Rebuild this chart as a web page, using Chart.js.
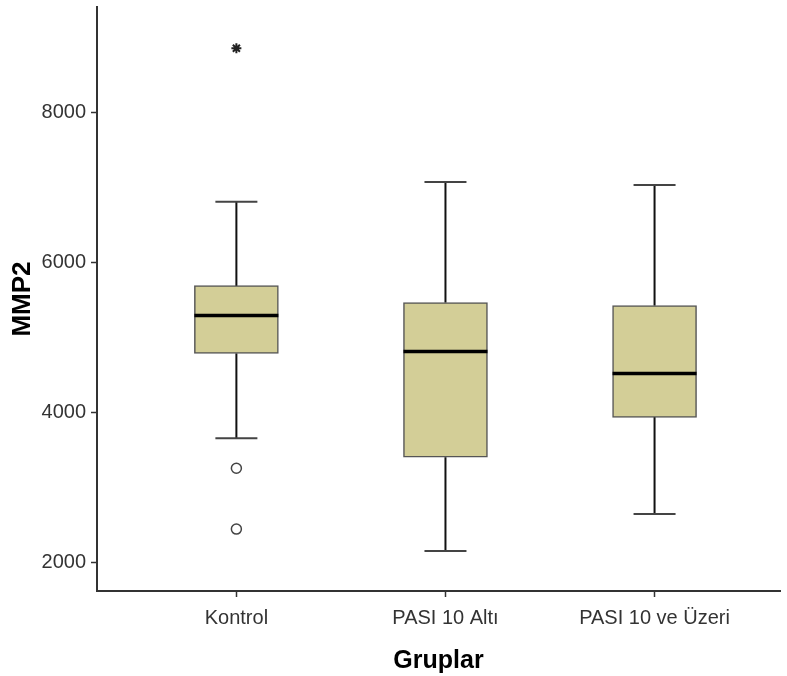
<!DOCTYPE html>
<html>
<head>
<meta charset="utf-8">
<script src="https://cdn.jsdelivr.net/npm/chart.js@4/dist/chart.umd.min.js"></script>
<style>
  body { margin: 0; background: #fff; }
  #wrap { width: 787px; height: 676px; }
</style>
</head>
<body>
<div id="wrap"><canvas id="chart"></canvas></div>
<script>
// Gruplar ve kutu grafiği değerleri
const groups = ['Kontrol', 'PASI 10 Altı', 'PASI 10 ve Üzeri'];
const whiskerMin = [3654, 2153, 2645];
const q1 = [4784, 3402, 3934];
const median = [5289, 4811, 4518];
const q3 = [5688, 5462, 5422];
const whiskerMax = [6804, 7070, 7030];
const outliers = [[3256, 2445], [], []];   // daire
const extremes = [[8850], [], []];         // yıldız
const yTicks = [2000, 4000, 6000, 8000];

const FONT = '"Liberation Sans", Arial, sans-serif';

const boxData = groups.map((g, i) => ({ x: i + 1, y: [q1[i], q3[i]] }));
const outlierPts = [];
outliers.forEach((arr, i) => arr.forEach(v => outlierPts.push({ x: i + 1, y: v })));
const extremePts = [];
extremes.forEach((arr, i) => arr.forEach(v => extremePts.push({ x: i + 1, y: v })));

// Bıyıklar ve medyan çizgileri
const boxLines = {
    id: 'boxLines',
    afterDatasetsDraw(chart) {
        const ctx = chart.ctx;
        const y = chart.scales.y;
        const meta = chart.getDatasetMeta(0);
        ctx.save();
        meta.data.forEach((bar, i) => {
            const cx = bar.x;
            const half = bar.width / 2;
            const cap = half / 2;
            // dikey bıyıklar
            ctx.strokeStyle = '#111';
            ctx.lineWidth = 2;
            ctx.beginPath();
            ctx.moveTo(cx, y.getPixelForValue(q3[i]));
            ctx.lineTo(cx, y.getPixelForValue(whiskerMax[i]));
            ctx.moveTo(cx, y.getPixelForValue(q1[i]));
            ctx.lineTo(cx, y.getPixelForValue(whiskerMin[i]));
            ctx.stroke();
            // uç çizgileri
            ctx.strokeStyle = '#444';
            ctx.beginPath();
            ctx.moveTo(cx - cap, y.getPixelForValue(whiskerMax[i]));
            ctx.lineTo(cx + cap, y.getPixelForValue(whiskerMax[i]));
            ctx.moveTo(cx - cap, y.getPixelForValue(whiskerMin[i]));
            ctx.lineTo(cx + cap, y.getPixelForValue(whiskerMin[i]));
            ctx.stroke();
            // medyan
            ctx.strokeStyle = '#000';
            ctx.lineWidth = 3.5;
            ctx.beginPath();
            ctx.moveTo(cx - half, y.getPixelForValue(median[i]));
            ctx.lineTo(cx + half, y.getPixelForValue(median[i]));
            ctx.stroke();
        });
        ctx.restore();
    }
};

new Chart(document.getElementById('chart'), {
    type: 'bar',
    data: {
        datasets: [
            {
                label: 'MMP2',
                data: boxData,
                backgroundColor: '#D3CE97',
                borderColor: '#555',
                borderWidth: 1.5,
                borderSkipped: false,
                barThickness: 84
            },
            {
                type: 'scatter',
                data: outlierPts,
                pointStyle: 'circle',
                radius: 5,
                backgroundColor: '#fff',
                borderColor: '#444',
                borderWidth: 1.5
            },
            {
                type: 'scatter',
                data: extremePts,
                pointStyle: 'star',
                radius: 5,
                backgroundColor: '#222',
                borderColor: '#222',
                borderWidth: 2
            }
        ]
    },
    options: {
        responsive: true,
        maintainAspectRatio: false,
        animation: false,
        layout: { padding: { top: 5, right: 4, left: 0, bottom: 0 } },
        plugins: {
            legend: { display: false },
            tooltip: { enabled: false }
        },
        scales: {
            x: {
                type: 'linear',
                offset: false,
                min: 1 - 140 / 210,
                max: 3.6,
                afterBuildTicks: s => { s.ticks = [1, 2, 3].map(v => ({ value: v })); },
                afterFit: s => { s.height = 85; s.paddingLeft = 0; s.paddingRight = 0; },
                ticks: {
                    callback: v => groups[v - 1],
                    color: '#333',
                    font: { family: FONT, size: 20 },
                    padding: 9
                },
                grid: { offset: false, drawOnChartArea: false, tickLength: 6, tickColor: '#333', tickWidth: 1.5 },
                border: { color: '#333', width: 2 },
                title: {
                    display: true,
                    text: 'Gruplar',
                    color: '#000',
                    font: { family: FONT, size: 25, weight: 'bold' },
                    padding: { top: 0, bottom: 0 }
                }
            },
            y: {
                min: 1620,
                max: 9400,
                afterBuildTicks: s => { s.ticks = yTicks.map(v => ({ value: v })); },
                afterFit: s => { s.width = 97; s.paddingTop = 0; s.paddingBottom = 0; },
                ticks: {
                    callback: v => String(v),
                    color: '#333',
                    font: { family: FONT, size: 20 },
                    padding: 5
                },
                grid: { drawOnChartArea: false, tickLength: 6, tickColor: '#333', tickWidth: 1.5 },
                border: { color: '#333', width: 2 },
                title: {
                    display: true,
                    text: 'MMP2',
                    color: '#000',
                    font: { family: FONT, size: 26, weight: 'bold' },
                    padding: { top: 7, bottom: 0 }
                }
            }
        }
    },
    plugins: [boxLines]
});
</script>
</body>
</html>
